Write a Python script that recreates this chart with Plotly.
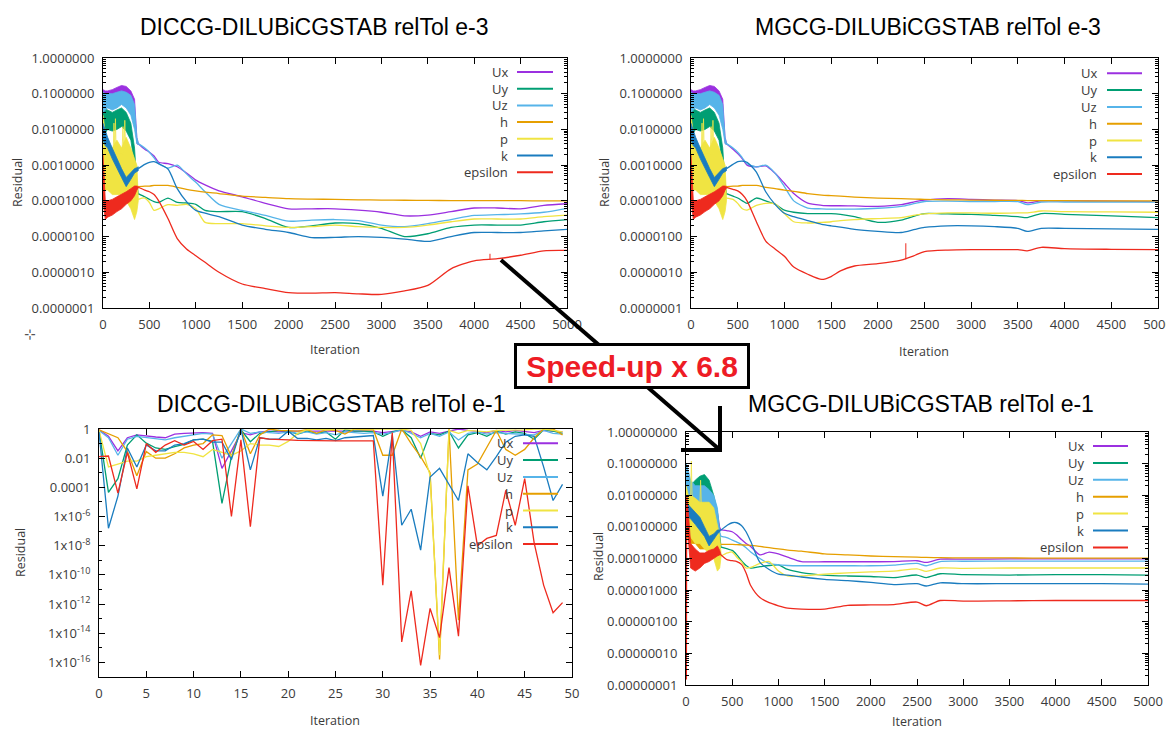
import plotly.graph_objects as go
import numpy as np

# The page body keeps an 8px margin, so the figure is sized to the visible part of the window
WIN_W, WIN_H = 1174, 729
OX, OY = 8, 8
FW, FH = WIN_W - OX, WIN_H - OY

NAMES = ["Ux", "Uy", "Uz", "h", "p", "k", "epsilon"]
COLORS = ["#9b30e0", "#009e73", "#56b4e9", "#e69f00", "#f0e442", "#1a7cbf", "#ee2a1e"]

# ---------- early noisy region (relTol e-3, both top charts): envelopes ----------
top_band_it = [0, 25, 50, 100, 150, 200, 250, 300, 340, 365, 380]
top_band_hi = {
    "Ux": [0.13, 0.12, 0.12, 0.13, 0.15, 0.17, 0.16, 0.12, 0.07, 0.006, 0.0042],
    "Uy": [0.05, 0.04, 0.035, 0.03, 0.035, 0.04, 0.03, 0.015, 0.003, 0.0003, 0.00017],
    "Uz": [0.11, 0.1, 0.1, 0.1, 0.11, 0.12, 0.11, 0.09, 0.05, 0.006, 0.0042],
    "h": [0.003, 0.002, 0.0015, 0.001, 0.0008, 0.0006, 0.0005, 0.0004, 0.0003, 0.00028, 0.00026],
    "p": [0.025, 0.008, 0.004, 0.003, 0.005, 0.003, 0.006, 0.003, 0.0015, 0.001, 0.00012],
    "k": [0.015, 0.009, 0.006, 0.003, 0.0015, 0.0008, 0.00045, 0.0006, 0.0008, 0.00085, 0.0009],
    "epsilon": [0.002, 0.0001, 0.0001, 0.00011, 0.00013, 0.00015, 0.00018, 0.00022, 0.00026, 0.00026, 0.00025],
}
top_band_lo = {
    "Ux": [0.07, 0.08, 0.08, 0.08, 0.09, 0.1, 0.09, 0.06, 0.03, 0.004, 0.0038],
    "Uy": [0.006, 0.008, 0.01, 0.009, 0.01, 0.012, 0.009, 0.005, 0.001, 0.00015, 0.00015],
    "Uz": [0.03, 0.035, 0.04, 0.035, 0.04, 0.05, 0.04, 0.025, 0.01, 0.004, 0.0038],
    "h": [0.0004, 0.0003, 0.0003, 0.0002, 0.0002, 0.00016, 0.00015, 0.00015, 0.0002, 0.00022, 0.00024],
    "p": [0.0002, 0.0002, 0.0002, 0.00015, 0.00015, 0.00015, 0.0001, 0.00006, 0.00003, 0.00005, 0.0001],
    "k": [0.005, 0.0035, 0.003, 0.0015, 0.0008, 0.00045, 0.00025, 0.0004, 0.0006, 0.00065, 0.0007],
    "epsilon": [0.0001, 0.00003, 0.000035, 0.00004, 0.00005, 0.00006, 0.00008, 0.0001, 0.00014, 0.0002, 0.00023],
}
# thin yellow spikes above the p band
top_p_spike_it = [110, 118, 126, 134, 142, 205, 215, 225, 235, 245]
top_p_spike = [0.002, 0.015, 0.002, 0.02, 0.002, 0.002, 0.012, 0.002, 0.018, 0.002]

# ---------- DICCG-DILUBiCGSTAB relTol e-3 ----------
tl_it = [380, 450, 500, 550, 600, 700, 800, 900, 1000, 1100, 1250, 1500, 1750, 2000, 2250, 2500,
         2750, 3000, 3250, 3500, 3750, 4000, 4250, 4500, 4750, 5000]
tl_ux = [4.0e-3, 2.8e-3, 2.3e-3, 1.8e-3, 1.2e-3, 1.1e-3, 9e-4, 6e-4, 3.8e-4, 2.8e-4, 1.9e-4, 1.3e-4, 8.5e-5,
         6e-5, 6e-5, 6e-5, 5.5e-5, 4.8e-5, 3.8e-5, 4e-5, 5e-5, 6.3e-5, 6.3e-5, 6e-5, 7.5e-5, 8.3e-5]
tl_uy = [1.6e-4, 1.3e-4, 1.1e-4, 9.5e-5, 9e-5, 1.2e-4, 9e-5, 8.7e-5, 8e-5, 5.4e-5, 5e-5, 5e-5, 3.2e-5,
         1.8e-5, 2e-5, 2.4e-5, 2.3e-5, 1.7e-5, 1e-5, 1.2e-5, 1.8e-5, 2.1e-5, 2.1e-5, 2.1e-5, 2.6e-5, 3e-5]
tl_uz = [4e-3, 3e-3, 2.3e-3, 1.6e-3, 1.1e-3, 8.3e-4, 1e-3, 5.7e-4, 3.3e-4, 1.8e-4, 8e-5, 5.4e-5, 3.9e-5,
         2.7e-5, 2.9e-5, 3e-5, 2.8e-5, 2.1e-5, 1.9e-5, 2.3e-5, 3e-5, 3.9e-5, 4.1e-5, 4.3e-5, 4.8e-5, 6.2e-5]
tl_h = [2.5e-4, 2.6e-4, 2.6e-4, 2.7e-4, 2.7e-4, 2.7e-4, 2.4e-4, 2.1e-4, 1.9e-4, 1.75e-4, 1.6e-4, 1.35e-4,
        1.25e-4, 1.15e-4, 1.12e-4, 1.1e-4, 1.07e-4, 1.05e-4, 1.04e-4, 1.03e-4, 1.02e-4, 1.02e-4, 1.01e-4,
        1.01e-4, 1e-4, 1e-4]
tl_p = [1.1e-4, 1.2e-4, 9e-5, 5.4e-5, 6e-5, 7.8e-5, 7.5e-5, 8e-5, 6e-5, 2.5e-5, 2.3e-5, 2.3e-5, 2e-5,
        1.8e-5, 1.9e-5, 2.1e-5, 1.9e-5, 1.8e-5, 1.8e-5, 2.1e-5, 2.6e-5, 3.1e-5, 3.1e-5, 3.1e-5, 3.6e-5, 4e-5]
tl_k = [8e-4, 1.05e-3, 1.2e-3, 1.25e-3, 1.1e-3, 7.8e-4, 2.2e-4, 9.5e-5, 5.4e-5, 4.5e-5, 3.6e-5, 2.1e-5,
        1.6e-5, 1.3e-5, 9.4e-6, 9.5e-6, 1e-5, 9.5e-6, 8.5e-6, 7.3e-6, 1e-5, 1.3e-5, 1.3e-5, 1.3e-5,
        1.45e-5, 1.6e-5]
tl_eps = [2.4e-4, 2e-4, 1.8e-4, 1.5e-4, 1e-4, 3.2e-5, 8.8e-6, 4.5e-6, 2.9e-6, 1.9e-6, 1e-6, 4.7e-7, 3.5e-7,
          2.7e-7, 2.6e-7, 2.7e-7, 2.5e-7, 2.4e-7, 3e-7, 4.3e-7, 1.25e-6, 2.1e-6, 2.4e-6, 3e-6, 4e-6, 4.1e-6]
tl_eps_spike_it = [4170, 4170]
tl_eps_spike = [2.3e-6, 3.3e-6]

# ---------- MGCG-DILUBiCGSTAB relTol e-3 ----------
tr_it = [380, 450, 500, 550, 600, 700, 800, 900, 1000, 1100, 1250, 1400, 1500, 1600, 1750, 2000, 2250,
         2400, 2500, 2750, 3000, 3250, 3500, 3600, 3750, 4000, 4500, 5000]
tr_ux = [4e-3, 2.8e-3, 2.1e-3, 1.5e-3, 1.0e-3, 9e-4, 9.5e-4, 5.9e-4, 3.1e-4, 1.6e-4, 8.6e-5, 7.5e-5, 7.3e-5,
         7.3e-5, 7.2e-5, 7e-5, 7.8e-5, 9.5e-5, 1.05e-4, 1.15e-4, 1.1e-4, 1.05e-4, 1.02e-4, 8.8e-5, 1.0e-4,
         1.0e-4, 9.8e-5, 9.5e-5]
tr_uy = [1.6e-4, 1.35e-4, 1.2e-4, 1e-4, 8.5e-5, 1.2e-4, 1e-4, 8.1e-5, 5.5e-5, 4.8e-5, 4.4e-5, 4.4e-5, 4.4e-5,
         4.2e-5, 3.6e-5, 2.5e-5, 2.9e-5, 3.8e-5, 4.4e-5, 4.3e-5, 4.2e-5, 3.9e-5, 3.6e-5, 3.4e-5, 4.4e-5,
         4.2e-5, 3.8e-5, 3.4e-5]
tr_uz = [4e-3, 3e-3, 2.3e-3, 1.6e-3, 1.1e-3, 8.9e-4, 1e-3, 6e-4, 2.5e-4, 1e-4, 6.3e-5, 6e-5, 5.9e-5, 5.9e-5,
         5.9e-5, 6.2e-5, 7e-5, 8.5e-5, 9.6e-5, 9.8e-5, 9.6e-5, 9.6e-5, 9.5e-5, 7.8e-5, 9.3e-5, 9.3e-5,
         9.3e-5, 9.3e-5]
tr_h = [2.5e-4, 2.6e-4, 2.6e-4, 2.7e-4, 2.7e-4, 2.7e-4, 2.4e-4, 2.2e-4, 2e-4, 1.85e-4, 1.6e-4, 1.45e-4,
        1.4e-4, 1.35e-4, 1.28e-4, 1.2e-4, 1.15e-4, 1.12e-4, 1.1e-4, 1.07e-4, 1.05e-4, 1.04e-4, 1.03e-4,
        1.02e-4, 1.02e-4, 1.01e-4, 1e-4, 1e-4]
tr_p = [1.2e-4, 1.1e-4, 8.5e-5, 6e-5, 5.5e-5, 7.5e-5, 8.5e-5, 8.2e-5, 4.4e-5, 2.6e-5, 2.4e-5, 2.5e-5, 2.6e-5,
        2.8e-5, 3e-5, 3.2e-5, 3.4e-5, 4e-5, 4.3e-5, 4.6e-5, 4.6e-5, 4.5e-5, 4.6e-5, 4.6e-5, 5.2e-5, 5e-5,
        4.9e-5, 4.8e-5]
tr_k = [8e-4, 1.05e-3, 1.25e-3, 1.3e-3, 1.2e-3, 6.4e-4, 1.8e-4, 8e-5, 4.5e-5, 3.6e-5, 2.8e-5, 2.2e-5, 2e-5,
        1.85e-5, 1.6e-5, 1.4e-5, 1.3e-5, 1.6e-5, 1.8e-5, 2e-5, 2e-5, 1.9e-5, 1.7e-5, 1.4e-5, 1.7e-5, 1.7e-5,
        1.65e-5, 1.6e-5]
tr_eps = [2.4e-4, 2.1e-4, 1.9e-4, 1.5e-4, 1e-4, 2.6e-5, 7.5e-6, 4.5e-6, 2.8e-6, 1.4e-6, 8.8e-7, 6.3e-7,
          7.6e-7, 1.1e-6, 1.5e-6, 1.75e-6, 2.2e-6, 3e-6, 3.8e-6, 4.2e-6, 4.3e-6, 4.3e-6, 4.3e-6, 4e-6, 5e-6,
          4.6e-6, 4.4e-6, 4.3e-6]
tr_eps_spike_it = [2300, 2300]
tr_eps_spike = [2.3e-6, 6.5e-6]

# ---------- DICCG-DILUBiCGSTAB relTol e-1 (log10 of residual, iterations 0..49) ----------
bl_it = list(range(50))
bl_ux_log = [-0.05, -0.5, -1.5, -0.6, -0.4, -0.5, -0.55, -0.6, -0.35, -0.3, -0.25, -0.25, -0.3, -2.7, -1.5,
             -0.25, -0.4, -0.2, -0.15, -0.2, -0.15, -0.15, -0.2, -0.15, -0.15, -0.2, -0.15, -0.15, -0.2,
             -0.15, -0.25, -0.2, -0.1, -0.2, -0.5, -0.2, -0.3, -0.15, 0.0, -0.1, -0.15, -0.25, -0.1, -0.2,
             -0.1, -0.15, -0.25, -0.1, -0.15, -0.2]
bl_uy_log = [-0.1, -4.35, -3.4, -1.1, -0.4, -0.97, -1.3, -1.4, -1.2, -1.05, -0.75, -0.7, -0.85, -5.1, -1.9,
             -0.05, -0.87, -0.3, -0.2, -0.1, -0.15, -0.35, -0.15, -0.3, -0.2, -0.7, -0.05, -0.15, -0.15,
             -0.2, -0.5, -0.2, -0.05, -0.6, -2.0, -0.3, -0.4, -0.15, -1.3, -0.4, -0.25, -0.5, -0.15, -0.35,
             -0.2, -0.3, -0.7, -0.05, -0.15, -0.3]
bl_uz_log = [-0.1, -0.6, -1.8, -0.7, -0.5, -0.6, -0.65, -0.75, -0.6, -0.5, -0.4, -0.3, -0.35, -2.0, -1.0,
             0.0, -0.3, -0.2, -0.25, -0.3, -0.2, -0.3, -0.2, -0.35, -0.25, -0.4, -0.2, -0.25, -0.3, -0.25,
             -0.35, -0.25, -0.05, -0.3, -0.6, -0.3, -0.5, -0.2, -0.75, -0.3, -0.2, -0.35, -0.25, -0.3,
             -0.35, -0.4, -0.4, -0.1, -0.3, -0.35]
bl_h_log = [-0.05, -0.3, -0.6, -1.55, -3.2, -1.55, -2.0, -2.0, -1.7, -1.3, -1.1, -1.0, -0.4, -0.45, -1.9,
            0.0, -1.7, -0.4, 0.0, -0.1, -0.1, -0.15, -0.05, -0.3, -0.05, -0.1, -0.35, 0.0, -0.05, -0.05,
            -1.8, -1.8, 0.0, -1.0, -1.9, -3.0, -15.8, 0.0, -13.1, -2.8, -2.4, -1.2, -0.1, -1.4, -1.8,
            -1.4, -0.6, 0.0, 0.0, -0.4]
bl_p_log = [-0.1, -2.6, -2.4, -2.2, -2.2, -1.9, -1.8, -1.7, -1.6, -1.6, -1.7, -1.9, -1.4, -1.6, -1.8, -1.5,
            -1.0, -1.1, -1.1, -1.2, -0.85, -0.3, -0.05, 0.0, -0.05, 0.0, 0.0, 0.0, 0.0, 0.0, 0.0, -0.05,
            0.0, -0.1, -1.0, -3.2, -15.5, -0.1, -0.3, -0.1, -0.15, -0.2, -0.1, -0.1, -0.1, -0.05, 0.0, 0.0,
            -0.1, -0.2]
bl_k_log = [-0.2, -6.8, -4.6, -1.3, -2.6, -1.1, -1.5, -1.5, -1.1, -1.0, -0.75, -0.7, -0.9, -0.9, -2.1, 0.0,
            -2.8, -0.6, -0.7, -0.7, -0.15, -0.65, -0.65, -0.75, -0.65, -0.8, -0.6, -0.55, -0.45, -0.45,
            -4.6, -0.4, -6.6, -5.5, -8.3, -3.3, -2.7, -3.8, -4.9, -1.7, -2.3, -2.8, -1.9, -0.9, -0.5, -0.4,
            -0.5, -2.6, -4.9, -3.8]
bl_eps_log = [-1.9, -1.85, -4.4, -1.6, -4.1, -1.0, -1.6, -1.1, -0.8, -1.1, -0.85, -1.4, -0.8, -0.7, -6.0,
              -0.75, -6.7, -0.6, -0.7, -0.75, -0.75, -0.78, -0.8, -0.82, -0.82, -0.82, -0.82, -0.82, -0.82,
              -0.82, -10.7, -0.25, -14.6, -11.1, -16.2, -12.3, -14.3, -9.5, -14.2, -3.9, -8.0, -7.5, -7.3,
              -4.2, -6.6, -3.4, -7.8, -10.7, -12.6, -11.9]

# ---------- MGCG-DILUBiCGSTAB relTol e-1 ----------
br_band_it = [0, 25, 50, 100, 150, 200, 250, 300, 340, 365, 380]
br_band_hi = {
    "Ux": [0.1, 0.03, 0.02, 0.015, 0.012, 0.012, 0.008, 0.005, 0.003, 0.001, 0.0008],
    "Uy": [0.1, 0.03, 0.02, 0.03, 0.04, 0.045, 0.03, 0.01, 0.003, 0.0004, 0.00023],
    "Uz": [0.1, 0.06, 0.03, 0.02, 0.02, 0.02, 0.015, 0.01, 0.004, 0.0007, 0.0005],
    "h": [0.005, 0.002, 0.0015, 0.001, 0.0008, 0.0006, 0.0005, 0.0004, 0.0003, 0.0003, 0.00028],
    "p": [0.02, 0.01, 0.01, 0.008, 0.006, 0.006, 0.006, 0.004, 0.001, 0.0005, 0.00013],
    "k": [0.006, 0.005, 0.004, 0.003, 0.002, 0.001, 0.0005, 0.0006, 0.0008, 0.0008, 0.0008],
    "epsilon": [0.01, 0.003, 0.0003, 0.0002, 0.00015, 0.00015, 0.00018, 0.0002, 0.00025, 0.00018, 0.00013],
}
br_band_lo = {
    "Ux": [0.02, 0.006, 0.004, 0.004, 0.004, 0.004, 0.003, 0.002, 0.001, 0.0008, 0.0008],
    "Uy": [0.02, 0.006, 0.005, 0.006, 0.01, 0.012, 0.006, 0.002, 0.0006, 0.0002, 0.00023],
    "Uz": [0.02, 0.01, 0.005, 0.004, 0.005, 0.006, 0.004, 0.002, 0.0008, 0.0005, 0.0005],
    "h": [0.0006, 0.0004, 0.0003, 0.0003, 0.0002, 0.0002, 0.0002, 0.0002, 0.00025, 0.00027, 0.00028],
    "p": [0.001, 0.0006, 0.0005, 0.0003, 0.0003, 0.0002, 0.00015, 0.0001, 0.00004, 0.00005, 0.00012],
    "k": [0.003, 0.002, 0.0018, 0.0012, 0.0008, 0.0005, 0.00025, 0.0004, 0.0006, 0.0007, 0.0008],
    "epsilon": [0.002, 0.0004, 0.00005, 0.00004, 0.00005, 0.00007, 0.00008, 0.0001, 0.00012, 0.00013, 0.00013],
}
br_p_spike_it = [50, 58, 66, 150, 158, 166]
br_p_spike = [0.008, 0.12, 0.008, 0.005, 0.03, 0.005]
br_eps_start_it = [0, 2, 4, 6, 9, 14]
br_eps_start = [0.003, 1e-6, 1.5e-8, 1e-4, 0.01, 0.004]

br_it = [380, 450, 500, 550, 600, 650, 700, 800, 900, 1000, 1100, 1250, 1500, 1750, 2000, 2250, 2500, 2600,
         2750, 3000, 3500, 4000, 4500, 5000]
br_ux = [8e-4, 7.5e-4, 7e-4, 5.5e-4, 4e-4, 3e-4, 2.4e-4, 1.3e-4, 1.6e-4, 1.4e-4, 1.1e-4, 8e-5, 7.9e-5, 7.9e-5,
         7.9e-5, 8e-5, 8.5e-5, 7.5e-5, 9.5e-5, 9.5e-5, 9.7e-5, 9.7e-5, 9.7e-5, 9.7e-5]
br_uy = [2.3e-4, 2e-4, 1.8e-4, 1.3e-4, 8.5e-5, 6e-5, 5e-5, 5.5e-5, 6e-5, 6.3e-5, 4.5e-5, 3.6e-5, 3e-5, 2.8e-5,
         2.7e-5, 2.5e-5, 3e-5, 2.5e-5, 3.3e-5, 3.1e-5, 3e-5, 3.1e-5, 3.1e-5, 3e-5]
br_uz = [5e-4, 4.5e-4, 3.8e-4, 3.3e-4, 2.8e-4, 2.2e-4, 1.6e-4, 1e-4, 7e-5, 6.3e-5, 6e-5, 5.9e-5, 5.9e-5,
         5.9e-5, 5.9e-5, 6.2e-5, 7e-5, 5.9e-5, 8e-5, 8.2e-5, 8.3e-5, 8.3e-5, 8.3e-5, 8.3e-5]
br_h = [2.8e-4, 2.8e-4, 2.8e-4, 2.75e-4, 2.7e-4, 2.65e-4, 2.6e-4, 2.4e-4, 2.2e-4, 2e-4, 1.85e-4, 1.7e-4,
        1.4e-4, 1.3e-4, 1.2e-4, 1.15e-4, 1.1e-4, 1.08e-4, 1.06e-4, 1.05e-4, 1.04e-4, 1.03e-4, 1.03e-4, 1.03e-4]
br_p = [1.2e-4, 1.5e-4, 1.6e-4, 1.1e-4, 8e-5, 5e-5, 5.2e-5, 7e-5, 8e-5, 4e-5, 2.8e-5, 2.8e-5, 3.2e-5, 3.5e-5,
        3.8e-5, 4e-5, 4.7e-5, 3.9e-5, 5e-5, 4.9e-5, 5e-5, 5e-5, 5e-5, 5e-5]
br_k = [8e-4, 1.15e-3, 1.35e-3, 1.35e-3, 1.1e-3, 7e-4, 3.5e-4, 7.5e-5, 4.5e-5, 3.2e-5, 3e-5, 2.6e-5, 2.2e-5,
        2e-5, 1.75e-5, 1.5e-5, 1.6e-5, 1.35e-5, 1.7e-5, 1.6e-5, 1.6e-5, 1.6e-5, 1.6e-5, 1.55e-5]
br_eps = [1.3e-4, 9e-5, 8.5e-5, 8e-5, 6.5e-5, 3.5e-5, 1.4e-5, 5.8e-6, 4e-6, 3.2e-6, 2.7e-6, 2.5e-6, 2.5e-6,
          3.3e-6, 3.4e-6, 3.5e-6, 4.2e-6, 3.2e-6, 4.7e-6, 4.5e-6, 4.6e-6, 4.7e-6, 4.7e-6, 4.7e-6]

TITLES = ["DICCG-DILUBiCGSTAB relTol e-3", "MGCG-DILUBiCGSTAB relTol e-3",
          "DICCG-DILUBiCGSTAB relTol e-1", "MGCG-DILUBiCGSTAB relTol e-1"]
SPEEDUP = "Speed-up x 6.8"


def px(x):
    return (x - OX) / FW


def py(y):
    return 1 - (y - OY) / FH


fig = go.Figure()


def band(it, lo, hi, color, xa, ya):
    fig.add_trace(go.Scatter(
        x=list(it) + list(it)[::-1], y=list(hi) + list(lo)[::-1], mode="lines",
        fill="toself", fillcolor=color, line=dict(color=color, width=0.8),
        xaxis=xa, yaxis=ya, hoverinfo="skip", showlegend=False))


def line(it, vals, color, xa, ya, spline=True, width=1.3):
    fig.add_trace(go.Scatter(
        x=it, y=vals, mode="lines",
        line=dict(color=color, width=width, shape="spline" if spline else "linear", smoothing=0.7),
        xaxis=xa, yaxis=ya, hoverinfo="skip", showlegend=False))


tl_series = [tl_ux, tl_uy, tl_uz, tl_h, tl_p, tl_k, tl_eps]
tr_series = [tr_ux, tr_uy, tr_uz, tr_h, tr_p, tr_k, tr_eps]
for series, grid, xa, ya, spike in [(tl_series, tl_it, "x", "y", (tl_eps_spike_it, tl_eps_spike)),
                                    (tr_series, tr_it, "x2", "y2", (tr_eps_spike_it, tr_eps_spike))]:
    for name, c, s in zip(NAMES, COLORS, series):
        band(top_band_it, top_band_lo[name], top_band_hi[name], c, xa, ya)
        if name == "p":
            line(top_p_spike_it, top_p_spike, c, xa, ya, spline=False, width=0.8)
        line(grid, s, c, xa, ya)
        if name == "epsilon":
            line(spike[0], spike[1], c, xa, ya, spline=False, width=1)

bl_series = [bl_ux_log, bl_uy_log, bl_uz_log, bl_h_log, bl_p_log, bl_k_log, bl_eps_log]
for name, c, s in zip(NAMES, COLORS, bl_series):
    line(bl_it, list(10.0 ** np.array(s)), c, "x3", "y3", spline=False)

br_series = [br_ux, br_uy, br_uz, br_h, br_p, br_k, br_eps]
for name, c, s in zip(NAMES, COLORS, br_series):
    band(br_band_it, br_band_lo[name], br_band_hi[name], c, "x4", "y4")
    if name == "p":
        line(br_p_spike_it, br_p_spike, c, "x4", "y4", spline=False, width=0.8)
    if name == "epsilon":
        line(br_eps_start_it, br_eps_start, c, "x4", "y4", spline=False)
    line(br_it, s, c, "x4", "y4")

TICKFONT = dict(family="Open Sans", size=13, color="#3a3a3a")


def xax(x0, x1, anchor, rng, dtick):
    return dict(domain=[px(x0), px(x1)], anchor=anchor, range=rng, dtick=dtick, tick0=0,
                showline=True, linecolor="black", linewidth=1, mirror="ticks",
                ticks="inside", ticklen=6, tickcolor="black", showgrid=False, zeroline=False,
                tickfont=TICKFONT, ticklabelstandoff=4, automargin=False)


def yax(y0, y1, anchor, lo, fmt):
    vals = [10.0 ** e for e in range(lo, 1)]
    if fmt == "sup":
        tickvals, ticktext = [], []
        for e in range(lo + 1, 1, 2):
            tickvals.append(10.0 ** e)
            if e == 0:
                ticktext.append("1")
            elif e == -2:
                ticktext.append("0.01")
            elif e == -4:
                ticktext.append("0.0001")
            else:
                ticktext.append("1x10<sup>%d</sup>" % e)
        minor = [10.0 ** e for e in range(lo, 1)]
    else:
        tickvals = vals
        ticktext = [fmt % v for v in vals]
        minor = [m * 10.0 ** e for e in range(lo, 0) for m in range(2, 10)]
    return dict(domain=[py(y1), py(y0)], anchor=anchor, type="log", range=[lo, 0],
                tickmode="array", tickvals=tickvals, ticktext=ticktext,
                showline=True, linecolor="black", linewidth=1, mirror="ticks",
                ticks="inside", ticklen=6, tickcolor="black", showgrid=False, zeroline=False,
                tickfont=TICKFONT, ticklabelstandoff=5, automargin=False,
                minor=dict(tickmode="array", tickvals=minor, ticks="inside", ticklen=3,
                           tickcolor="black", showgrid=False))


fig.update_layout(
    width=FW, height=FH, margin=dict(l=0, r=0, t=0, b=0, autoexpand=False),
    paper_bgcolor="white", plot_bgcolor="white", showlegend=False,
    xaxis=xax(103, 567, "y", [0, 5000], 500),
    yaxis=yax(58, 308, "x", -7, "%.7f"),
    xaxis2=xax(691, 1158, "y2", [0, 5000], 500),
    yaxis2=yax(58, 308, "x2", -7, "%.7f"),
    xaxis3=xax(99, 572, "y3", [0, 50], 5),
    yaxis3=yax(429, 677, "x3", -17, "sup"),
    xaxis4=xax(686, 1148, "y4", [0, 5000], 500),
    yaxis4=yax(432, 685, "x4", -8, "%.8f"),
)

ann = []
shapes = []
for t, (cx, cy) in zip(TITLES, [(314, 27), (928, 27), (331, 404), (921, 404)]):
    ann.append(dict(x=px(cx), y=py(cy), xref="paper", yref="paper", text=t, showarrow=False,
                    xanchor="center", yanchor="middle",
                    font=dict(family="Liberation Sans", size=23, color="black")))
AXF = dict(family="Open Sans", size=12.5, color="#3a3a3a")
for cx, cy in [(335, 349), (924, 351), (335, 720), (917, 721)]:
    ann.append(dict(x=px(cx), y=py(cy), xref="paper", yref="paper", text="Iteration", showarrow=False,
                    xanchor="center", yanchor="middle", font=AXF))
for cx, cy in [(17, 183), (604, 183), (20, 553), (598, 557)]:
    ann.append(dict(x=px(cx), y=py(cy), xref="paper", yref="paper", text="Residual", showarrow=False,
                    textangle=-90, xanchor="center", yanchor="middle", font=AXF))

LEGF = dict(family="Open Sans", size=13, color="#3a3a3a")
for xt, l0, l1, y0, dy in [(509, 517, 553, 72, 16.7), (1098, 1107, 1142, 73.3, 16.8),
                           (514, 523, 558, 443.3, 16.8), (1085, 1093, 1128, 446, 16.9)]:
    for i, (name, c) in enumerate(zip(NAMES, COLORS)):
        yy = y0 + i * dy
        ann.append(dict(x=px(xt), y=py(yy), xref="paper", yref="paper", text=name, showarrow=False,
                        xanchor="right", yanchor="middle", font=LEGF, borderpad=0))
        shapes.append(dict(type="line", xref="paper", yref="paper", x0=px(l0), x1=px(l1),
                           y0=py(yy), y1=py(yy), line=dict(color=c, width=2), layer="above"))

for (x0, y0, x1, y1) in [(501, 260, 720, 450), (720, 406, 720, 452), (681, 450, 722, 450)]:
    shapes.append(dict(type="line", xref="paper", yref="paper", x0=px(x0), y0=py(y0), x1=px(x1), y1=py(y1),
                       line=dict(color="black", width=4), layer="above"))
ann.append(dict(x=px(632), y=py(366), xref="paper", yref="paper", text="<b>%s</b>" % SPEEDUP,
                showarrow=False, xanchor="center", yanchor="middle",
                font=dict(family="Liberation Sans", size=30, color="#ee1c25"),
                bgcolor="white", bordercolor="black", borderwidth=3, borderpad=2,
                width=226, height=36))
ann.append(dict(x=px(22), y=py(334), xref="paper", yref="paper", text="⊹", showarrow=False,
                font=dict(family="DejaVu Sans", size=14, color="#555")))

fig.update_layout(annotations=ann, shapes=shapes)
fig.write_html("out.html")
